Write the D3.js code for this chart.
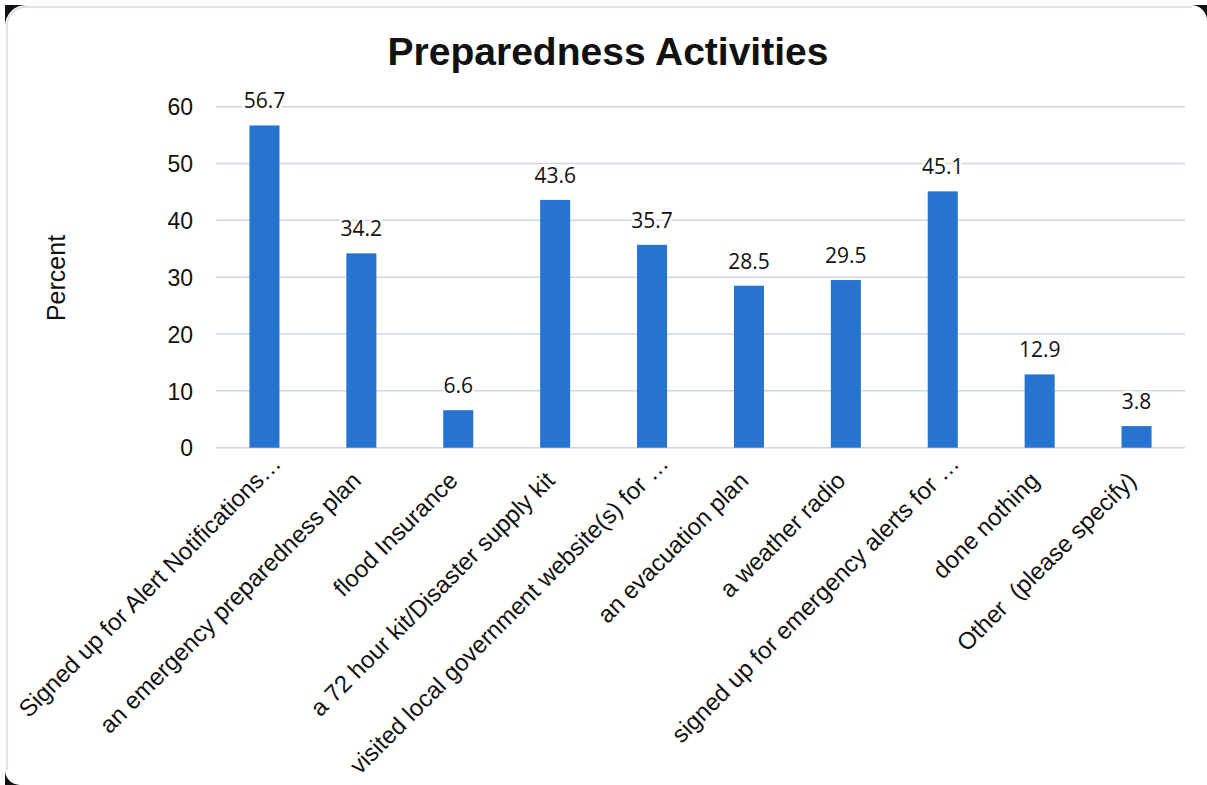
<!DOCTYPE html>
<html>
<head>
<meta charset="utf-8">
<script src="https://cdn.jsdelivr.net/npm/d3@7"></script>
<style>
  html, body { margin: 0; padding: 0; background: #ffffff; }
  svg { display: block; }
  text { white-space: pre; }
</style>
</head>
<body>
<svg id="chart" width="1207" height="785"></svg>
<script>
const categories = [
  "Signed up for Alert Notifications…",
  "an emergency preparedness plan",
  "flood Insurance",
  "a 72 hour kit/Disaster supply kit",
  "visited local government website(s) for …",
  "an evacuation plan",
  "a weather radio",
  "signed up for emergency alerts for …",
  "done nothing",
  "Other  (please specify)"
];
const values = [56.7, 34.2, 6.6, 43.6, 35.7, 28.5, 29.5, 45.1, 12.9, 3.8];
const yTicks = [0, 10, 20, 30, 40, 50, 60];
const chartTitle = "Preparedness Activities";
const yTitle = "Percent";

const svg = d3.select("#chart");
const W = 1207, H = 785;
const plot = { left: 216, right: 1185, top: 106.7, bottom: 447.7 };
const barColor = "#2774d0";
const gridColor = "#cdd7e3";
const sans = "'Liberation Sans', Arial, sans-serif";

svg.append("rect").attr("width", W).attr("height", H).attr("fill", "#fff");

// frame (scanned card edge)
svg.append("path")
  .attr("d", "M7,770 V26 A19,19 0 0 1 26,7 H1192")
  .attr("fill", "none").attr("stroke", "#d3dbe6").attr("stroke-width", 1.5);
svg.append("path").attr("d", "M5,5 H26 A21,21 0 0 0 5,26 Z").attr("fill", "#111");
svg.append("path").attr("d", "M1191,5 H1207 V22 A16,16 0 0 0 1191,5 Z").attr("fill", "#111");
svg.append("path").attr("d", "M5,770 A15,15 0 0 0 20,785 H5 Z").attr("fill", "#111");

const x = d3.scaleBand()
  .domain(categories)
  .range([plot.left, plot.right])
  .paddingInner(0.69)
  .paddingOuter(0.345);

const y = d3.scaleLinear().domain([0, 60]).range([plot.bottom, plot.top]);

// gridlines
svg.append("g")
  .selectAll("line")
  .data(yTicks)
  .join("line")
  .attr("x1", plot.left).attr("x2", plot.right)
  .attr("y1", d => y(d)).attr("y2", d => y(d))
  .attr("stroke", gridColor).attr("stroke-width", 1.5);

// y axis tick labels
const yAxis = d3.axisLeft(y).tickValues(yTicks).tickSize(0).tickPadding(0).tickFormat(d3.format("d"));
const yg = svg.append("g").attr("transform", `translate(${plot.left - 23},0)`).call(yAxis);
yg.select(".domain").remove();
yg.selectAll("text")
  .attr("font-family", sans).attr("font-size", 23).attr("fill", "#111")
  .attr("dy", "0.36em");

// bars
svg.append("g")
  .selectAll("rect")
  .data(values)
  .join("rect")
  .attr("x", (d, i) => x(categories[i]))
  .attr("width", x.bandwidth())
  .attr("y", d => y(d))
  .attr("height", d => y(0) - y(d))
  .attr("fill", barColor);

// value labels
svg.append("g")
  .selectAll("text")
  .data(values)
  .join("text")
  .attr("x", (d, i) => x(categories[i]) + x.bandwidth() / 2)
  .attr("y", d => y(d) - 17)
  .attr("text-anchor", "middle")
  .attr("font-family", "'Open Sans', sans-serif")
  .attr("font-size", 21)
  .attr("fill", "#111")
  .attr("stroke", "#fff").attr("stroke-width", 5).attr("paint-order", "stroke")
  .text(d => d3.format(".1f")(d));

// category labels (rotated)
const xg = svg.append("g");
categories.forEach(c => {
  const cx = x(c) + x.bandwidth() / 2;
  const g = xg.append("g").attr("transform", `translate(${cx + 1},${482}) rotate(-45)`);
  const hasEll = c.endsWith("…");
  const main = hasEll ? c.slice(0, -1) : c;
  g.append("text")
    .attr("text-anchor", "end")
    .attr("font-family", sans).attr("font-size", 24).attr("fill", "#111")
    .text(main);
  if (hasEll) {
    g.append("text")
      .attr("text-anchor", "start")
      .attr("font-family", sans).attr("font-size", 24).attr("fill", "#111")
      .text("…");
  }
});

// y axis title
svg.append("text")
  .attr("transform", "translate(65,278) rotate(-90)")
  .attr("text-anchor", "middle")
  .attr("font-family", sans).attr("font-size", 25).attr("fill", "#111")
  .text(yTitle);

// chart title
svg.append("text")
  .attr("x", 608).attr("y", 65)
  .attr("text-anchor", "middle")
  .attr("font-family", sans).attr("font-weight", "bold").attr("font-size", 39).attr("fill", "#111")
  .text(chartTitle);
</script>
</body>
</html>
